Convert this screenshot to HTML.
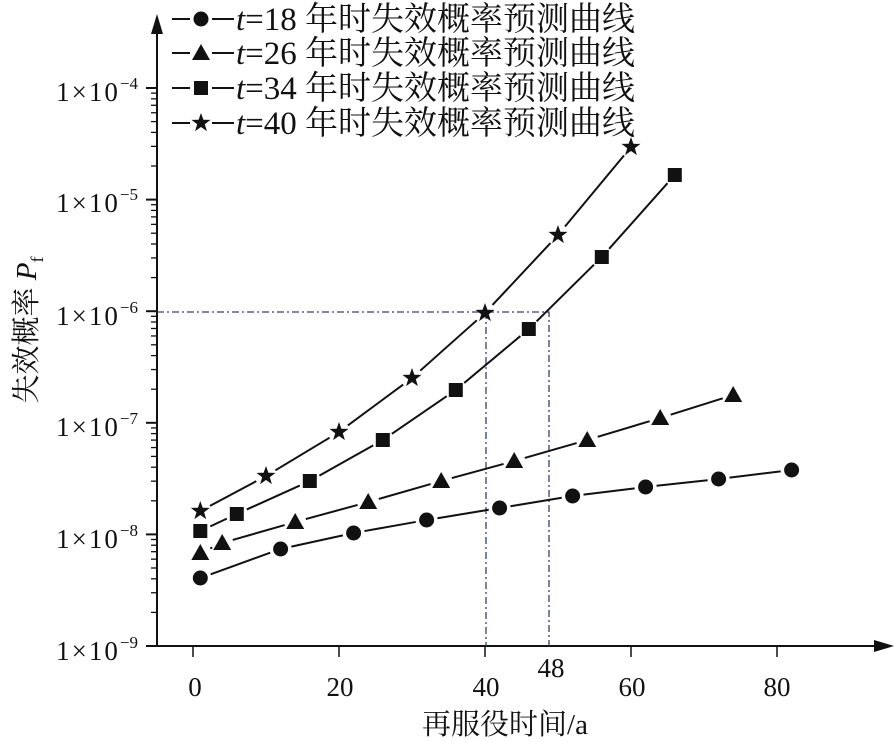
<!DOCTYPE html><html><head><meta charset="utf-8"><style>body{margin:0;background:#fff}svg{display:block}text{font-family:"Liberation Serif","Noto Serif CJK SC",serif;fill:#111}.t tspan.m{letter-spacing:2px}</style></head><body>
<svg id="s" width="894" height="742" viewBox="0 0 894 742" xmlns="http://www.w3.org/2000/svg">
<g stroke="#111" stroke-width="2" fill="none">
<line x1="157" y1="26" x2="157" y2="647"/><line x1="157" y1="646" x2="884" y2="646"/>
</g>
<polygon points="157,14 151,34 163,34" fill="#111"/>
<polygon points="894,646 874,640 874,652" fill="#111"/>
<g stroke="#33406e" stroke-width="1.3" stroke-dasharray="7,3,2,3" fill="none">
<polyline points="157,312 549,312 549,646"/><line x1="486" y1="312" x2="486" y2="646"/>
</g>
<g id="ax"></g><g id="ser"></g>
<g font-size="27" class="t">
<text x="138" y="101" text-anchor="end"><tspan class="m">1×10</tspan><tspan dy="-12" font-size="17">−4</tspan></text>
<text x="138" y="212" text-anchor="end"><tspan class="m">1×10</tspan><tspan dy="-12" font-size="17">−5</tspan></text>
<text x="138" y="325" text-anchor="end"><tspan class="m">1×10</tspan><tspan dy="-12" font-size="17">−6</tspan></text>
<text x="138" y="436" text-anchor="end"><tspan class="m">1×10</tspan><tspan dy="-12" font-size="17">−7</tspan></text>
<text x="138" y="548" text-anchor="end"><tspan class="m">1×10</tspan><tspan dy="-12" font-size="17">−8</tspan></text>
<text x="138" y="660" text-anchor="end"><tspan class="m">1×10</tspan><tspan dy="-12" font-size="17">−9</tspan></text>
</g>
<g font-size="27" text-anchor="middle">
<text x="195" y="696">0</text><text x="340" y="696">20</text><text x="486" y="696">40</text><text x="632" y="696">60</text><text x="777" y="696">80</text>
<text x="551" y="677">48</text>
</g>
<text x="505" y="734" font-size="29" text-anchor="middle">再服役时间/a</text>
<text transform="translate(36,330) rotate(-90)" font-size="29" text-anchor="middle">失效概率 <tspan font-style="italic">P</tspan><tspan font-size="18" dy="7">f</tspan></text>
<g font-size="33" id="leg">
<text x="236" y="30"><tspan font-style="italic">t</tspan>=18 年时失效概率预测曲线</text>
<text x="236" y="64"><tspan font-style="italic">t</tspan>=26 年时失效概率预测曲线</text>
<text x="236" y="99"><tspan font-style="italic">t</tspan>=34 年时失效概率预测曲线</text>
<text x="236" y="134"><tspan font-style="italic">t</tspan>=40 年时失效概率预测曲线</text>
</g>
</svg>
<script>
var NS="http://www.w3.org/2000/svg";
function el(p,t,a){var e=document.createElementNS(NS,t);for(var k in a)e.setAttribute(k,a[k]);p.appendChild(e);return e;}
var ax=document.getElementById('ax'),ser=document.getElementById('ser');
var dec=111.6;
for(var d=0;d<5;d++){var base=646-d*dec;el(ax,'line',{x1:146,y1:base,x2:157,y2:base,stroke:'#111','stroke-width':2});
for(var m=2;m<10;m++){var y=base-Math.log10(m)*dec;el(ax,'line',{x1:151,y1:y,x2:157,y2:y,stroke:'#111','stroke-width':1.3});}}
el(ax,'line',{x1:146,y1:88,x2:157,y2:88,stroke:'#111','stroke-width':2});
[0,20,40,60,80].forEach(function(v){var x=193+v*7.3;el(ax,'line',{x1:x,y1:646,x2:x,y2:657,stroke:'#111','stroke-width':1.5});});
function X(v){return 193+v*7.3;}
var S=[['c',[[1,578],[12,549],[22,533],[32,520],[42,508],[52,496],[62,487],[72,479],[82,470]]],
['t',[[1,553],[4,543],[14,522],[24,502],[34,481],[44,461],[54,440],[64,418],[74,395]]],
['s',[[1,531],[6,514],[16,481],[26,440],[36,390],[46,329],[56,257],[66,175]]],
['p',[[1,511],[10,476],[20,432],[30,378],[40,313],[50,235],[60,147]]]];
function mk(g,t,x,y){
if(t=='c')el(g,'circle',{cx:x,cy:y,r:7.5,fill:'#111'});
else if(t=='t')el(g,'polygon',{points:(x)+','+(y-9)+' '+(x-9)+','+(y+7)+' '+(x+9)+','+(y+7),fill:'#111'});
else if(t=='s')el(g,'rect',{x:x-7,y:y-7,width:14,height:14,fill:'#111'});
else{var p=[];for(var i=0;i<10;i++){var r=i%2?4:10,a=-Math.PI/2+i*Math.PI/5;p.push((x+r*Math.cos(a)).toFixed(1)+','+(y+r*Math.sin(a)).toFixed(1));}el(g,'polygon',{points:p.join(' '),fill:'#111'});}}
S.forEach(function(s){var pts=s[1].map(function(p){return [X(p[0]),p[1]];});
for(var i=0;i<pts.length-1;i++){var a=pts[i],b=pts[i+1],dx=b[0]-a[0],dy=b[1]-a[1],L=Math.hypot(dx,dy),g=11;
if(L>2*g)el(ser,'line',{x1:a[0]+dx/L*g,y1:a[1]+dy/L*g,x2:b[0]-dx/L*g,y2:b[1]-dy/L*g,stroke:'#111','stroke-width':2});}
pts.forEach(function(p){mk(ser,s[0],p[0],p[1]);});});
var ly=[19,53,88,123],lt=['c','t','s','p'];
for(var i=0;i<4;i++){el(ser,'line',{x1:172,y1:ly[i],x2:190,y2:ly[i],stroke:'#111','stroke-width':2});
el(ser,'line',{x1:212,y1:ly[i],x2:234,y2:ly[i],stroke:'#111','stroke-width':2});mk(ser,lt[i],201,ly[i]);}
</script>
</body></html>
